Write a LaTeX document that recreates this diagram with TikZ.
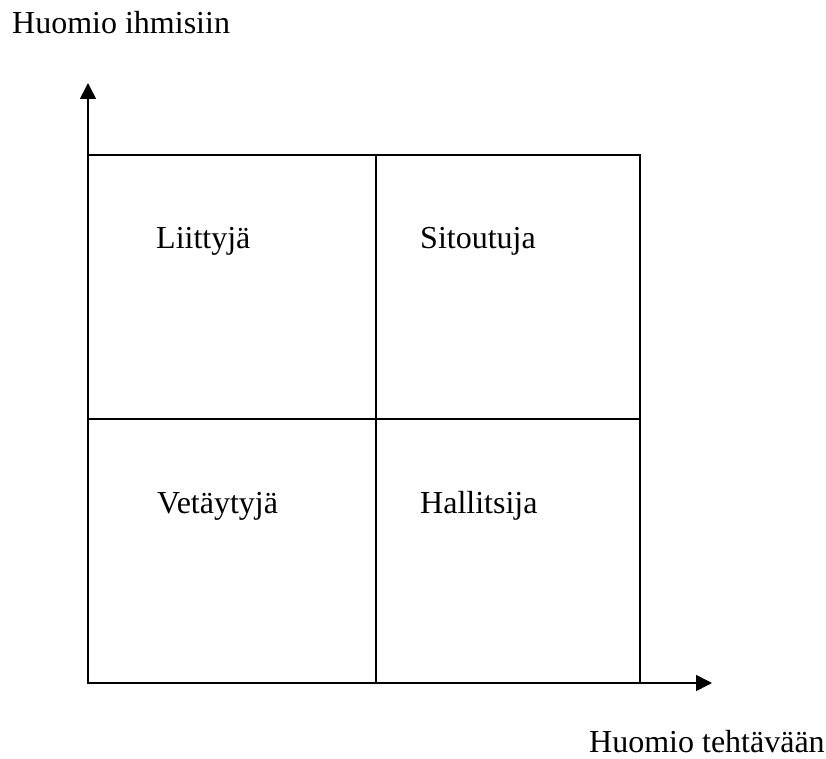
\documentclass[tikz,border=0pt]{standalone}
\usepackage{fontspec}
\setmainfont{Liberation Serif}
\usetikzlibrary{arrows.meta}

\tikzset{
  lbl/.style={anchor=base west, inner sep=0pt, font=\fontsize{32}{38}\selectfont},
  akseli/.style={line width=1.6pt, -{Triangle[length=16pt,width=16pt]}},
  ruutu/.style={line width=1.6pt}
}

\begin{document}
\begin{tikzpicture}[x=1pt,y=1pt]
      \useasboundingbox (0,0) rectangle (826,758);
      % origo ja akselien päät
      \coordinate (O) at (88,75);
      \coordinate (ylos) at (88,675);
      \coordinate (oik) at (712,75);
      % nelikentta
      \draw[ruutu] (88,75) rectangle (640,603);
      \draw[ruutu] (376,75) -- (376,603);
      \draw[ruutu] (88,339) -- (640,339);
      \draw[akseli] (O) -- (ylos);
      \draw[akseli] (O) -- (oik);
      \node[lbl] (yteksti) at (12,724) {Huomio ihmisiin};
      \node[lbl] (xteksti) at (589,6) {Huomio tehtävään};
      \node[lbl] (liit) at (156,509) {Liittyjä};
      \node[lbl] (sit) at (420,509) {Sitoutuja};
      \node[lbl] (vet) at (157,245) {Vetäytyjä};
      \node[lbl] (hal) at (420,245) {Hallitsija};
  \end{tikzpicture}
\end{document}
